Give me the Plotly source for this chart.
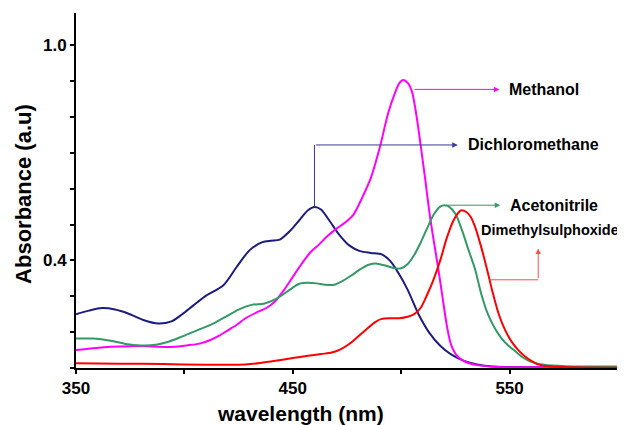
import plotly.graph_objects as go

# ---------------- data ----------------
wl_dcm = [350, 356, 362, 368, 374, 381, 388, 394, 399, 404, 410, 418, 424, 430, 436, 440,
          444, 449, 453, 457, 460, 463, 467, 471, 476, 481, 486, 491, 495, 499, 503, 508,
          513, 518, 523, 529, 535, 542, 550, 565, 580, 600]
abs_dcm = [0.250, 0.260, 0.267, 0.263, 0.252, 0.234, 0.224, 0.230, 0.250, 0.274, 0.302, 0.331,
           0.381, 0.428, 0.451, 0.455, 0.458, 0.484, 0.512, 0.540, 0.549, 0.542, 0.510, 0.475,
           0.442, 0.426, 0.421, 0.417, 0.398, 0.362, 0.318, 0.250, 0.198, 0.162, 0.138, 0.120,
           0.110, 0.104, 0.103, 0.102, 0.102, 0.102]

wl_meoh = [350, 358, 366, 375, 385, 395, 401, 407, 412, 416, 420, 424, 428, 433, 438, 442,
           446, 450, 454, 458, 462, 466, 470, 474, 478, 482, 486, 490, 494, 497, 499, 501,
           503, 505, 507, 509, 511, 513, 515, 517, 519, 521, 523, 526, 530, 535, 545, 560,
           580, 600]
abs_meoh = [0.150, 0.155, 0.159, 0.161, 0.160, 0.159, 0.163, 0.168, 0.178, 0.190, 0.205, 0.220,
            0.238, 0.254, 0.268, 0.287, 0.318, 0.354, 0.390, 0.422, 0.444, 0.468, 0.488, 0.505,
            0.528, 0.575, 0.630, 0.712, 0.811, 0.865, 0.893, 0.903, 0.895, 0.870, 0.805, 0.720,
            0.630, 0.535, 0.455, 0.381, 0.300, 0.220, 0.165, 0.132, 0.116, 0.108, 0.103, 0.102,
            0.102, 0.102]

wl_acn = [350, 358, 366, 373, 380, 386, 393, 399, 405, 414, 420, 425, 431, 437, 443, 449,
          453, 457, 461, 465, 469, 473, 477, 481, 485, 489, 493, 497, 500, 503, 506, 509,
          512, 515, 518, 520, 522, 525, 528, 531, 534, 537, 540, 543, 546, 549, 552, 556,
          560, 566, 576, 600]
abs_acn = [0.182, 0.182, 0.176, 0.167, 0.163, 0.164, 0.174, 0.188, 0.203, 0.226, 0.246, 0.263,
           0.276, 0.280, 0.295, 0.320, 0.335, 0.338, 0.336, 0.332, 0.332, 0.343, 0.358, 0.375,
           0.388, 0.391, 0.385, 0.378, 0.378, 0.390, 0.415, 0.450, 0.490, 0.528, 0.550, 0.554,
           0.550, 0.530, 0.485, 0.430, 0.377, 0.305, 0.250, 0.213, 0.185, 0.165, 0.150, 0.130,
           0.117, 0.109, 0.105, 0.104]

wl_dmso = [350, 370, 390, 410, 420, 428, 435, 442, 450, 457, 463, 468, 472, 476, 480, 484,
           488, 491, 495, 499, 503, 506, 509, 512, 515, 518, 521, 524, 527, 528, 530, 532,
           534, 537, 540, 542, 545, 548, 551, 554, 557, 560, 563, 569, 580, 600]
abs_dmso = [0.113, 0.112, 0.111, 0.109, 0.109, 0.110, 0.114, 0.120, 0.128, 0.134, 0.139, 0.143,
            0.152, 0.167, 0.187, 0.208, 0.228, 0.237, 0.239, 0.239, 0.243, 0.250, 0.268, 0.305,
            0.348, 0.400, 0.462, 0.510, 0.537, 0.540, 0.535, 0.522, 0.495, 0.435, 0.365, 0.315,
            0.250, 0.205, 0.173, 0.150, 0.133, 0.120, 0.110, 0.104, 0.102, 0.101]

x_tickvals = [350, 400, 450, 500, 550, 600]
x_ticktext = ["350", "", "450", "", "550", ""]
y_tickvals = [0.1, 0.2, 0.3, 0.4, 0.5, 0.6, 0.7, 0.8, 0.9, 1.0]
y_ticktext = ["", "", "", "0.4", "", "", "", "", "", "1.0"]

# label anchor positions (wavelength, absorbance) for the callout texts
label_names = ["Methanol", "Dichloromethane", "Acetonitrile", "Dimethylsulphoxide"]
label_pos = [(549.0, 0.877), (529.8, 0.722), (549.4, 0.554), (536.1, 0.484)]
label_size = [16, 16, 16, 14.5]

FONT = "Liberation Sans, Arial, sans-serif"
C_DCM = "#1c1c7e"
C_MEOH = "#ff00ff"
C_ACN = "#339966"
C_DMSO = "#ff0000"

fig = go.Figure()
for wl, ab, col, name in [(wl_dcm, abs_dcm, C_DCM, "Dichloromethane"),
                          (wl_meoh, abs_meoh, C_MEOH, "Methanol"),
                          (wl_acn, abs_acn, C_ACN, "Acetonitrile"),
                          (wl_dmso, abs_dmso, C_DMSO, "Dimethylsulphoxide")]:
    fig.add_trace(go.Scatter(x=wl, y=ab, mode="lines", name=name,
                             line=dict(color=col, width=2, shape="spline", smoothing=0.8),
                             showlegend=False))

def peak(wl, ab):
    i = ab.index(max(ab))
    return wl[i], ab[i]

dcm_px, dcm_py = peak(wl_dcm, abs_dcm)
acn_px, acn_py = peak(wl_acn, abs_acn)

# callout arrows
def arrow(x0, y0, x1, y1, col):
    fig.add_annotation(x=x1, y=y1, ax=x0, ay=y0, xref="x", yref="y", axref="x", ayref="y",
                       text="", showarrow=True, arrowhead=2, arrowsize=1.1, arrowwidth=1,
                       arrowcolor=col, standoff=0, startstandoff=0)

# Methanol
arrow(505.5, label_pos[0][1], label_pos[0][0] - 3.7, label_pos[0][1], C_MEOH)
# Dichloromethane: vertical from peak then horizontal
fig.add_shape(type="line", x0=dcm_px, y0=dcm_py, x1=dcm_px, y1=label_pos[1][1],
              line=dict(color="#3a3aa0", width=1))
arrow(dcm_px, label_pos[1][1], label_pos[1][0] - 3.7, label_pos[1][1], "#3a3aa0")
# Acetonitrile
arrow(acn_px, acn_py, label_pos[2][0] - 3.7, label_pos[2][1], C_ACN)
# DMSO elbow
fig.add_shape(type="line", x0=541.1, y0=0.346, x1=563.2, y1=0.346,
              line=dict(color="#ff4d4d", width=1))
arrow(563.2, 0.346, 563.2, 0.433, "#ff4d4d")

for name, (lx, ly), fs in zip(label_names, label_pos, label_size):
    fig.add_annotation(x=lx, y=ly, xref="x", yref="y", text=name, showarrow=False,
                       xanchor="left", yanchor="middle",
                       font=dict(family=FONT, size=fs, color="black", weight="bold"))

# axis titles
fig.add_annotation(x=-0.098, y=0.49, xref="paper", yref="paper", text="Absorbance (a.u)",
                   textangle=-90, showarrow=False, xanchor="center", yanchor="middle",
                   font=dict(family=FONT, size=22, color="black", weight="bold"))
fig.add_annotation(x=0.415, y=-0.128, xref="paper", yref="paper", text="wavelength (nm)",
                   showarrow=False, xanchor="center", yanchor="middle",
                   font=dict(family=FONT, size=21, color="black", weight="bold"))

# page body has an 8px margin, so the figure is sized to fill the rest of the window
fig.update_layout(
    width=617, height=417,
    margin=dict(l=68, r=7, t=5, b=57),
    paper_bgcolor="white", plot_bgcolor="white",
    font=dict(family=FONT, color="black"),
)
fig.update_xaxes(range=[350, 600], showgrid=False, zeroline=False,
                 showline=True, linecolor="black", linewidth=2,
                 ticks="outside", ticklen=4, tickwidth=1.5, tickcolor="black",
                 tickvals=x_tickvals, ticktext=x_ticktext,
                 tickfont=dict(family=FONT, size=17, color="black", weight="bold"))
fig.update_yaxes(range=[0.1, 1.09], showgrid=False, zeroline=False,
                 showline=True, linecolor="black", linewidth=2,
                 ticks="outside", ticklen=4, tickwidth=1.5, tickcolor="black",
                 tickvals=y_tickvals, ticktext=y_ticktext,
                 tickfont=dict(family=FONT, size=17, color="black", weight="bold"))

fig.write_html("out.html")
